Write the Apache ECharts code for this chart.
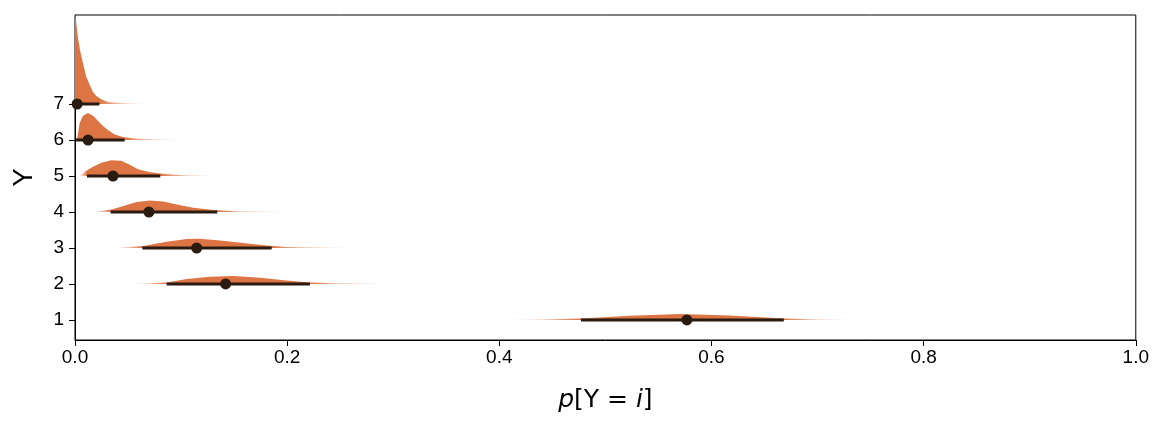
<!DOCTYPE html>
<html>
<head>
<meta charset="utf-8">
<script src="https://cdn.jsdelivr.net/npm/echarts@6/dist/echarts.min.js"></script>
<style>html,body{margin:0;padding:0;background:#fff;}#chart{width:1152px;height:432px;}</style>
</head>
<body>
<div id="chart"></div>
<script>
// ---- data ----
const rows = [1, 2, 3, 4, 5, 6, 7];
const xTicks = [0, 0.2, 0.4, 0.6, 0.8, 1.0];
const medians = [0.5768, 0.142, 0.1147, 0.0697, 0.0358, 0.0123, 0.002];
const intervalLo = [0.4769, 0.0864, 0.0635, 0.0336, 0.0113, 0.001, 0.0];
const intervalHi = [0.6682, 0.2215, 0.1854, 0.1341, 0.0804, 0.0468, 0.023];
// density samples: [x, height in row units]
const densityRow1 = [[0.4006,0],[0.4383,0.011],[0.4769,0.042],[0.5231,0.12],[0.5702,0.167],[0.6173,0.128],[0.6682,0.042],[0.7021,0.011],[0.7399,0]];
const densityRow2 = [[0.0518,0],[0.0864,0.044],[0.1053,0.139],[0.1272,0.203],[0.1492,0.222],[0.1744,0.175],[0.1995,0.1],[0.2215,0.044],[0.2467,0.019],[0.3035,0]];
const densityRow3 = [[0.0361,0],[0.0644,0.056],[0.0864,0.175],[0.1053,0.25],[0.1178,0.26],[0.1367,0.21],[0.1586,0.14],[0.1807,0.072],[0.1995,0.028],[0.2686,0]];
const densityRow4 = [[0.0157,0],[0.0346,0.07],[0.0455,0.167],[0.0582,0.278],[0.0707,0.32],[0.0832,0.29],[0.0959,0.21],[0.1115,0.117],[0.1303,0.056],[0.1524,0.022],[0.2055,0]];
const densityRow5 = [[0.0038,0],[0.0091,0.12],[0.017,0.26],[0.0248,0.37],[0.0342,0.44],[0.0436,0.42],[0.0516,0.31],[0.0594,0.19],[0.0688,0.12],[0.0782,0.075],[0.0877,0.047],[0.1034,0.019],[0.1379,0]];
const densityRow6 = [[0.0005,0],[0.0022,0.06],[0.0044,0.47],[0.0075,0.67],[0.0123,0.75],[0.017,0.67],[0.0217,0.53],[0.0264,0.39],[0.0311,0.28],[0.0374,0.15],[0.0452,0.083],[0.0563,0.042],[0.0716,0.022],[0.1034,0]];
const densityRow7 = [[0.0,2.7],[0.0009,2.33],[0.0028,1.83],[0.0047,1.5],[0.0075,1.14],[0.0107,0.75],[0.0139,0.53],[0.017,0.33],[0.0201,0.22],[0.0248,0.13],[0.0311,0.056],[0.0434,0.028],[0.0688,0]];
const densities = [densityRow1, densityRow2, densityRow3, densityRow4, densityRow5, densityRow6, densityRow7];

const ORANGE = [221, 116, 68];
const DARK = '#2a1b10';
const FONT = 'Liberation Sans, Arial, sans-serif';

const chart = echarts.init(document.getElementById('chart'), null, {renderer: 'canvas'});

const slabData = rows.map((r, i) => ({ value: [r, i] }));

function rgba(a) { return 'rgba(' + ORANGE.join(',') + ',' + a + ')'; }

function renderSlab(params, api) {
  const idx = api.value(1);
  const row = api.value(0);
  const d = densities[idx];
  const pts = [];
  pts.push(api.coord([d[0][0], row]));
  for (const p of d) pts.push(api.coord([p[0], row + p[1]]));
  pts.push(api.coord([d[d.length - 1][0], row]));
  const x0 = api.coord([d[0][0], row])[0];
  const x1 = api.coord([d[d.length - 1][0], row])[0];
  const lo = api.coord([intervalLo[idx], row])[0];
  const hi = api.coord([intervalHi[idx], row])[0];
  const w = Math.max(1, x1 - x0);
  const oLo = Math.min(1, Math.max(0, (lo - x0) / w));
  const oHi = Math.min(1, Math.max(oLo, (hi - x0) / w));
  const stops = [];
  if (oLo > 0) {
    stops.push({offset: 0, color: rgba(0)});
    stops.push({offset: oLo * 0.5, color: rgba(0.4)});
  }
  stops.push({offset: oLo, color: rgba(1)});
  stops.push({offset: oHi, color: rgba(1)});
  stops.push({offset: oHi + (1 - oHi) * 0.35, color: rgba(0.5)});
  stops.push({offset: 1, color: rgba(0)});
  return {
    type: 'polygon',
    shape: { points: pts },
    style: {
      fill: new echarts.graphic.LinearGradient(x0, 0, x1, 0, stops, true),
      stroke: null
    }
  };
}

function renderInterval(params, api) {
  const idx = api.value(1);
  const row = api.value(0);
  const a = api.coord([intervalLo[idx], row]);
  const b = api.coord([intervalHi[idx], row]);
  return {
    type: 'line',
    shape: { x1: a[0], y1: a[1], x2: b[0], y2: b[1] },
    style: { stroke: DARK, lineWidth: 3 }
  };
}

const option = {
  animation: false,
  backgroundColor: '#fff',
  grid: {
    left: 75, right: 16, top: 15, bottom: 92,
    show: true, borderColor: '#000', borderWidth: 1, backgroundColor: 'transparent'
  },
  xAxis: {
    type: 'value',
    min: 0, max: 1, interval: 0.2,
    axisLine: { show: true, lineStyle: { color: '#000', width: 1 } },
    axisTick: { show: true, inside: false, length: 6, lineStyle: { color: '#000' } },
    splitLine: { show: false },
    axisLabel: {
      color: '#000', fontSize: 19, fontFamily: FONT, margin: 8,
      formatter: v => v.toFixed(1)
    },
    name: '{i|p}[Y = {i|i}]',
    nameLocation: 'middle',
    nameGap: 48,
    nameTextStyle: {
      color: '#000', fontSize: 25, fontFamily: 'DejaVu Sans, sans-serif',
      rich: { i: { fontStyle: 'italic', fontSize: 25, fontFamily: 'DejaVu Sans, sans-serif', color: '#000' } }
    }
  },
  yAxis: {
    type: 'value',
    min: 0.444, max: 9.472,
    axisLine: { show: true, lineStyle: { color: '#000', width: 1 } },
    axisTick: { show: true, length: 6, customValues: rows, lineStyle: { color: '#000' } },
    axisLabel: { color: '#000', fontSize: 19, fontFamily: FONT, margin: 11, customValues: rows },
    splitLine: { show: false },
    name: 'Y',
    nameLocation: 'middle',
    nameGap: 37,
    nameTextStyle: { color: '#000', fontSize: 27, fontFamily: FONT }
  },
  series: [
    {
      type: 'custom',
      clip: true,
      renderItem: renderSlab,
      data: slabData,
      encode: { x: -1, y: 0 },
      z: 1
    },
    {
      type: 'custom',
      clip: true,
      renderItem: renderInterval,
      data: slabData,
      encode: { x: -1, y: 0 },
      z: 2
    },
    {
      type: 'scatter',
      data: rows.map((r, i) => [medians[i], r]),
      symbol: 'circle',
      symbolSize: 11,
      itemStyle: { color: DARK, opacity: 1 },
      clip: false,
      z: 3
    }
  ]
};
chart.setOption(option);
</script>
</body>
</html>
